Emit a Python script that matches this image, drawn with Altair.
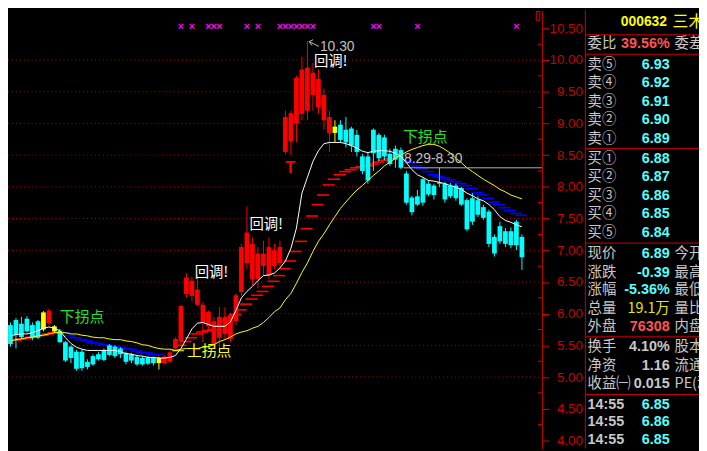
import altair as alt
import pandas as pd

# ---------------- values ----------------
opens = [5.82,5.90,5.84,5.92,5.82,5.88,5.75,5.85,5.72,5.73,
         5.55,5.48,5.40,5.40,5.24,5.33,5.36,5.42,5.50,5.48,
         5.45,5.38,5.36,5.32,5.30,5.31,5.30,5.22,5.22,5.24,
         5.45,5.57,6.31,6.28,6.14,5.86,5.80,5.52,5.62,5.68,
         5.60,5.88,6.34,6.80,6.54,6.55,6.75,6.60,6.75,6.80,
         8.55,8.72,9.00,9.15,9.20,9.45,9.25,9.05,8.85,8.85,
         8.98,8.90,8.92,8.82,8.48,8.48,8.90,8.82,8.78,8.52,
         8.60,8.58,8.21,7.83,7.85,8.12,8.05,8.02,8.07,8.05,
         8.02,8.02,7.98,7.79,7.82,7.79,7.68,7.61,7.21,7.38,
         7.30,7.30,7.45,7.21]
closes = [5.52,5.66,5.63,5.72,5.62,5.62,6.02,6.05,5.80,5.55,
          5.26,5.30,5.13,5.14,5.16,5.20,5.28,5.27,5.35,5.33,
          5.36,5.24,5.26,5.20,5.20,5.21,5.22,5.30,5.32,5.39,
          5.60,6.12,6.57,6.52,6.38,6.14,6.03,5.88,5.95,5.94,
          5.98,6.29,7.05,7.28,7.10,6.95,6.95,7.05,7.00,7.05,
          9.10,9.16,9.72,9.85,9.88,9.80,9.70,9.45,9.10,8.95,
          8.74,8.70,8.65,8.55,8.25,8.10,8.53,8.45,8.48,8.36,
          8.43,8.30,7.75,7.60,7.72,7.75,7.88,7.87,8.05,7.80,
          7.85,7.82,7.72,7.33,7.45,7.56,7.51,7.10,6.95,7.14,
          7.10,7.08,7.08,6.89]
highs = [5.86,5.93,5.95,5.96,5.86,5.90,6.04,6.08,5.82,5.76,
         5.57,5.50,5.43,5.44,5.28,5.36,5.40,5.45,5.52,5.50,
         5.47,5.40,5.38,5.35,5.33,5.33,5.32,5.32,5.34,5.42,
         5.63,6.14,6.64,6.58,6.62,6.18,6.05,5.95,6.10,6.10,
         6.01,6.32,7.10,7.69,7.20,7.05,7.15,7.20,7.10,7.15,
         9.20,9.20,9.75,10.05,10.30,9.95,9.85,9.55,9.20,9.05,
         9.05,9.10,8.95,8.90,8.52,8.55,8.92,8.85,8.82,8.60,
         8.65,8.62,8.25,7.86,7.95,8.15,8.10,8.05,8.30,8.08,
         8.06,8.05,8.00,7.82,7.90,7.85,7.72,7.64,7.25,7.45,
         7.35,7.36,7.48,7.25]
lows = [5.48,5.45,5.60,5.70,5.58,5.60,5.72,5.82,5.70,5.54,
        5.24,5.22,5.10,5.10,5.12,5.18,5.26,5.25,5.33,5.30,
        5.30,5.20,5.22,5.18,5.18,5.19,5.18,5.12,5.20,5.22,
        5.42,5.50,6.25,6.20,6.12,5.55,5.75,5.45,5.40,5.60,
        5.55,5.82,6.28,6.70,6.45,6.40,6.60,6.55,6.70,6.75,
        8.52,8.50,8.70,9.05,9.05,9.20,9.15,8.90,8.55,8.70,
        8.70,8.62,8.55,8.48,8.20,8.05,8.25,8.40,8.42,8.33,
        8.30,8.28,7.72,7.55,7.70,7.70,7.85,7.80,8.00,7.75,
        7.82,7.78,7.70,7.30,7.40,7.52,7.48,7.05,6.90,7.10,
        7.05,7.03,7.00,6.69]
# trend state of each candle: c = falling (cyan), r = rising (red), y = turn signal
states = "c"*6 + "yry" + "c"*18 + "y" + "r"*31 + "y" + "c"*34

ma_white = [5.65,5.67,5.68,5.68,5.70,5.73,5.77,5.79,5.77,5.73,
            5.62,5.53,5.47,5.44,5.42,5.42,5.42,5.42,5.42,5.42,
            5.40,5.37,5.36,5.34,5.33,5.31,5.31,5.30,5.30,5.31,
            5.34,5.45,5.60,5.76,5.85,5.86,5.83,5.80,5.80,5.80,
            5.87,6.05,6.25,6.35,6.43,6.52,6.60,6.61,6.64,6.72,
            6.83,7.03,7.35,7.90,8.15,8.40,8.57,8.68,8.70,8.70,
            8.70,8.68,8.65,8.61,8.56,8.54,8.56,8.57,8.57,8.56,
            8.53,8.48,8.38,8.27,8.19,8.15,8.10,8.09,8.07,8.05,
            8.02,7.99,7.96,7.90,7.86,7.81,7.78,7.72,7.64,7.53,
            7.47,7.44,7.40,7.37]
ma_yellow = [5.57,5.59,5.60,5.62,5.63,5.65,5.66,5.68,5.70,5.70,
             5.70,5.68,5.68,5.66,5.65,5.63,5.62,5.62,5.60,5.59,
             5.59,5.57,5.56,5.54,5.51,5.50,5.47,5.45,5.44,5.44,
             5.42,5.44,5.45,5.45,5.45,5.47,5.48,5.51,5.56,5.59,
             5.63,5.68,5.71,5.73,5.77,5.80,5.86,5.94,6.03,6.09,
             6.22,6.32,6.48,6.65,6.80,6.98,7.14,7.26,7.40,7.53,
             7.66,7.76,7.86,7.95,8.02,8.10,8.18,8.25,8.33,8.39,
             8.45,8.50,8.55,8.59,8.62,8.65,8.67,8.67,8.64,8.59,
             8.53,8.45,8.38,8.30,8.24,8.18,8.12,8.07,8.02,7.96,
             7.92,7.87,7.84,7.81]

red_step_start = [0, 30]
red_steps = [[5.58,5.60,5.61,5.63,5.65,5.66,5.68,5.70],
             [5.50,5.56,5.62,5.68,5.71,5.73,5.75,5.80,5.88,5.94,
              5.99,6.06,6.15,6.23,6.29,6.35,6.43,6.51,6.60,6.71,
              6.83,6.98,7.14,7.34,7.54,7.72,7.87,8.03,8.12,8.19,
              8.24,8.27,8.30,8.32,8.33,8.36,8.39,8.42,8.44]]
blue_step_start = [9, 71]
blue_steps = [[5.70,5.65,5.62,5.59,5.57,5.54,5.53,5.51,5.50,5.48,
               5.47,5.45,5.44,5.41,5.39,5.38,5.36,5.35],
              [8.41,8.38,8.33,8.28,8.24,8.19,8.16,8.14,8.11,8.08,
               8.05,8.02,7.97,7.91,7.87,7.82,7.76,7.72,7.67,7.63,
               7.58,7.55]]
cross_idx = [31, 33, 36, 37, 38, 43, 45, 49, 50, 51, 52, 53, 54, 55, 66, 67, 74, 92]

axis_values = [4.0, 4.5, 5.0, 5.5, 6.0, 6.5, 7.0, 7.5, 8.0, 8.5, 9.0, 9.5, 10.0, 10.5]
minor_values = [4.25, 4.75, 5.25, 5.75, 6.25, 6.75, 7.25, 7.75, 8.25, 8.75,
                9.25, 9.75, 10.25]
grid_values = [5.0, 5.5, 6.0, 6.5, 7.0, 7.5, 8.0, 8.5, 9.0, 9.5, 10.0]
peak_label = "10.30"
range_label = "8.29-8.30"
range_line = 8.30

stock_code = "000632"
stock_name = "三木集团"
wei_bi = "39.56%"
sell_labels = ["卖⑤", "卖④", "卖③", "卖②", "卖①"]
sell_prices = ["6.93", "6.92", "6.91", "6.90", "6.89"]
buy_labels = ["买①", "买②", "买③", "买④", "买⑤"]
buy_prices = ["6.88", "6.87", "6.86", "6.85", "6.84"]
quote_labels = ["现价", "涨跌", "涨幅", "总量", "外盘"]
quote_values = ["6.89", "-0.39", "-5.36%", "19.1万", "76308"]
quote_right = ["今开", "最高", "最低", "量比", "内盘"]
info_labels = ["换手", "净资", "收益㈠"]
info_values = ["4.10%", "1.16", "0.015"]
info_right = ["股本", "流通", "PE(动)"]
tick_times = ["14:55", "14:55", "14:55"]
tick_prices = ["6.85", "6.86", "6.85"]

# ---------------- layout ----------------
TOTAL_W, TOTAL_H = 699, 443
SX, SY = TOTAL_W / 707, TOTAL_H / 451
W = round(546 * SX)
H = TOTAL_H
XS = alt.Scale(domain=[-0.444, 96.62], nice=False, zero=False)
YS = alt.Scale(domain=[3.874, 10.780], nice=False, zero=False)
CS = alt.Scale(domain=["c", "r", "y"], range=["#00ffff", "#ff0000", "#ffff00"])
CJK = "Noto Sans CJK SC"
NUM = "Liberation Sans"
GRAY = "#c8c8c8"
CYAN = "#55ffff"
PRED = "#ff5454"
PANEL_RED = "#d00000"

n = len(opens)
candles = pd.DataFrame({"i": list(range(n)), "o": opens, "c": closes,
                        "h": highs, "l": lows, "s": list(states)})
candles["lo"] = candles[["o", "c"]].min(axis=1)
candles["hi"] = candles[["o", "c"]].max(axis=1)
candles["hi"] = candles[["hi", "lo"]].apply(lambda r: max(r["hi"], r["lo"] + 0.02), axis=1)
candles["xl"] = candles["i"] - 0.43
candles["xr"] = candles["i"] + 0.43

lines = pd.DataFrame({"i": list(range(n)), "w": ma_white, "yl": ma_yellow})


def steps_df(starts, levels, col):
    rows = []
    for s, lv in zip(starts, levels):
        for k, v in enumerate(lv):
            rows.append({"a": s + k - 0.25, "b": s + k + 1.95, "v": v, "col": col})
    return rows


steps = pd.DataFrame(steps_df(red_step_start, red_steps, "#ff0000") +
                     steps_df(blue_step_start, blue_steps, "#0000ff"))

grid = alt.Chart(pd.DataFrame({"v": grid_values})).mark_rule(
    color="#b00000", strokeDash=[1, 3], strokeWidth=1).encode(
    y=alt.Y("v:Q", scale=YS, axis=None), x=alt.value(0), x2=alt.value(W))

minor_ticks = alt.Chart(pd.DataFrame({"v": minor_values})).mark_rule(
    color="#e00000", strokeWidth=1).encode(
    y=alt.Y("v:Q", scale=YS, axis=None), x=alt.value(W - 4), x2=alt.value(W))

step_layer = alt.Chart(steps).mark_rule(strokeWidth=1.6).encode(
    x=alt.X("a:Q", scale=XS, axis=None), x2="b:Q",
    y=alt.Y("v:Q", scale=YS, axis=None),
    color=alt.Color("col:N", scale=None, legend=None))

wicks = alt.Chart(candles).mark_rule(strokeWidth=1).encode(
    x=alt.X("i:Q", scale=XS, axis=None),
    y=alt.Y("l:Q", scale=YS, axis=None), y2="h:Q",
    color=alt.Color("s:N", scale=CS, legend=None))

bodies = alt.Chart(candles).mark_rect().encode(
    x=alt.X("xl:Q", scale=XS, axis=None), x2="xr:Q",
    y=alt.Y("lo:Q", scale=YS, axis=alt.Axis(
        orient="right", values=axis_values, format=".2f", title=None,
        domainColor="#e00000", domainWidth=1, tickColor="#e00000", tickSize=7,
        labelColor="#c80000", labelFont=NUM, labelFontSize=13.5,
        labelAlign="right", labelBaseline="middle", labelPadding=34,
        labelOverlap=False, labelBound=False, labelFlush=False, grid=False)),
    y2="hi:Q",
    color=alt.Color("s:N", scale=CS, legend=None))

white_line = alt.Chart(lines).mark_line(color="#ffffff", strokeWidth=1).encode(
    x=alt.X("i:Q", scale=XS, axis=None), y=alt.Y("w:Q", scale=YS, axis=None))
yellow_line = alt.Chart(lines).mark_line(color="#ffff00", strokeWidth=1).encode(
    x=alt.X("i:Q", scale=XS, axis=None), y=alt.Y("yl:Q", scale=YS, axis=None))

crosses = alt.Chart(pd.DataFrame({"i": cross_idx})).mark_text(
    text="×", font=NUM, fontSize=11, fontWeight="bold", color="#ff00ff",
    baseline="middle", align="center").encode(
    x=alt.X("i:Q", scale=XS, axis=None), y=alt.value(17 * SY))


def ann(rows, font, weight="normal"):
    df = pd.DataFrame(rows, columns=["i", "p", "t", "col", "fs"])
    return alt.Chart(df).mark_text(align="left", baseline="middle", font=font,
                                   fontWeight=weight).encode(
        x=alt.X("i:Q", scale=XS, axis=None), y=alt.Y("p:Q", scale=YS, axis=None),
        text="t:N", color=alt.Color("col:N", scale=None, legend=None),
        size=alt.Size("fs:Q", scale=None, legend=None))


ann_num = ann([(56.27, 10.21, peak_label, "#c0c0c0", 14),
               (71.56, 8.445, range_label, "#c0c0c0", 14)], NUM)
ann_cjk = ann([(55.2, 9.975, "回调!", "#ffffff", 14.5),
               (43.47, 7.396, "回调!", "#ffffff", 14.5),
               (33.51, 6.645, "回调!", "#ffffff", 14.5),
               (8.98, 5.941, "下拐点", "#22e022", 15),
               (71.38, 8.788, "下拐点", "#22e022", 15),
               (32.09, 5.407, "上拐点", "#ffff00", 15)], CJK)
ann_t = ann([(50.0, 8.29, "T", "#ff0000", 16)], NUM, "bold")

segs = pd.DataFrame([
    {"a": 54.31, "pa": 10.29, "b": 56.09, "pb": 10.214, "col": "#c0c0c0"},
    {"a": 54.31, "pa": 10.29, "b": 55.02, "pb": 10.32, "col": "#c0c0c0"},
    {"a": 54.31, "pa": 10.29, "b": 54.84, "pb": 10.229, "col": "#c0c0c0"},
    {"a": 29.42, "pa": 5.415, "b": 31.56, "pb": 5.415, "col": "#ffff00"},
    {"a": 71.56, "pa": range_line, "b": 96.62, "pb": range_line, "col": "#b0b0b0"},
])
seg_layer = alt.Chart(segs).mark_rule(strokeWidth=1).encode(
    x=alt.X("a:Q", scale=XS, axis=None), x2="b:Q",
    y=alt.Y("pa:Q", scale=YS, axis=None), y2="pb:Q",
    color=alt.Color("col:N", scale=None, legend=None))


# ---------------- right-hand quote panel (pixel layout) ----------------
def px(x):
    return x * SX


def py(y):
    return y * SY


left_cjk, right_num, right_cjk, left_num = [], [], [], []
LX, VX, RX = 593, 677, 682
left_num.append((627, 12, stock_code, "#ffff00", 14))
left_cjk.append((680, 12, stock_name, "#ffff00", 16))
left_cjk.append((LX, 35, "委比", GRAY, 14.5))
right_num.append((VX, 35, wei_bi, PRED, 14.5))
left_cjk.append((RX, 35, "委差", GRAY, 14.5))
for k, yy in enumerate([56, 75, 94, 113, 132]):
    left_cjk.append((LX, yy, sell_labels[k], GRAY, 14.5))
    right_num.append((VX, yy, sell_prices[k], CYAN, 14.5))
for k, yy in enumerate([152.5, 171.5, 191, 210, 229]):
    left_cjk.append((LX, yy, buy_labels[k], GRAY, 14.5))
    right_num.append((VX, yy, buy_prices[k], CYAN, 14.5))
qcols = [CYAN, CYAN, CYAN, "#e6e600", PRED]
for k, yy in enumerate([251, 270, 288, 307, 326]):
    left_cjk.append((LX, yy, quote_labels[k], GRAY, 14.5))
    left_cjk.append((RX, yy, quote_right[k], GRAY, 14.5))
    if quote_values[k].endswith("万"):
        right_cjk.append((VX, yy, quote_values[k], qcols[k], 14.5))
    else:
        right_num.append((VX, yy, quote_values[k], qcols[k], 14.5))
for k, yy in enumerate([347, 366, 385]):
    left_cjk.append((LX, yy, info_labels[k], GRAY, 14.5))
    left_cjk.append((RX, yy, info_right[k], GRAY, 14.5))
    right_num.append((VX, yy, info_values[k], GRAY, 14.5))
for k, yy in enumerate([406, 424, 442]):
    left_num.append((LX, yy, tick_times[k], GRAY, 14.5))
    right_num.append((VX, yy, tick_prices[k], CYAN, 14.5))


def pix_text(rows, align, font, weight):
    df = pd.DataFrame(rows, columns=["x", "y", "t", "col", "fs"])
    df["x"] = df["x"].map(px)
    df["y"] = df["y"].map(py)
    return alt.Chart(df).mark_text(align=align, baseline="middle", font=font,
                                   fontWeight=weight).encode(
        x=alt.X("x:Q", scale=None, axis=None), y=alt.Y("y:Q", scale=None, axis=None),
        text="t:N", color=alt.Color("col:N", scale=None, legend=None),
        size=alt.Size("fs:Q", scale=None, legend=None))


panel_lines = pd.DataFrame(
    [{"x1": px(590.7), "x2": px(707), "y1": py(v), "y2": py(v)}
     for v in [25, 45, 142, 239.5, 336, 395.5]] +
    [{"x1": px(590.7), "x2": px(590.7), "y1": 0, "y2": TOTAL_H}])
panel_rules = alt.Chart(panel_lines).mark_rule(color=PANEL_RED, strokeWidth=1).encode(
    x=alt.X("x1:Q", scale=None, axis=None), x2="x2:Q",
    y=alt.Y("y1:Q", scale=None, axis=None), y2="y2:Q")

corner_box = alt.Chart(pd.DataFrame({"x1": [px(540.5)], "x2": [px(544)],
                                     "y1": [py(1)], "y2": [py(10)]})).mark_rect(
    fill="transparent", stroke="#e00000", strokeWidth=1).encode(
    x=alt.X("x1:Q", scale=None, axis=None), x2="x2:Q",
    y=alt.Y("y1:Q", scale=None, axis=None), y2="y2:Q")

chart = alt.layer(
    grid, minor_ticks, step_layer, wicks, bodies, white_line, yellow_line, crosses,
    seg_layer, ann_num, ann_cjk, ann_t,
    panel_rules, corner_box,
    pix_text(left_cjk, "left", CJK, "normal"),
    pix_text(right_cjk, "right", CJK, "normal"),
    pix_text(right_num, "right", NUM, "bold"),
    pix_text(left_num, "left", NUM, "bold"),
).resolve_scale(
    x="independent", y="independent", color="independent", size="independent"
).properties(
    width=W, height=H, autosize="none",
    padding={"left": 0, "top": 0, "right": TOTAL_W - W, "bottom": 0},
    background="#000000",
).configure_view(stroke=None)

chart.save("out.html", embed_options={"renderer": "svg", "actions": False})
